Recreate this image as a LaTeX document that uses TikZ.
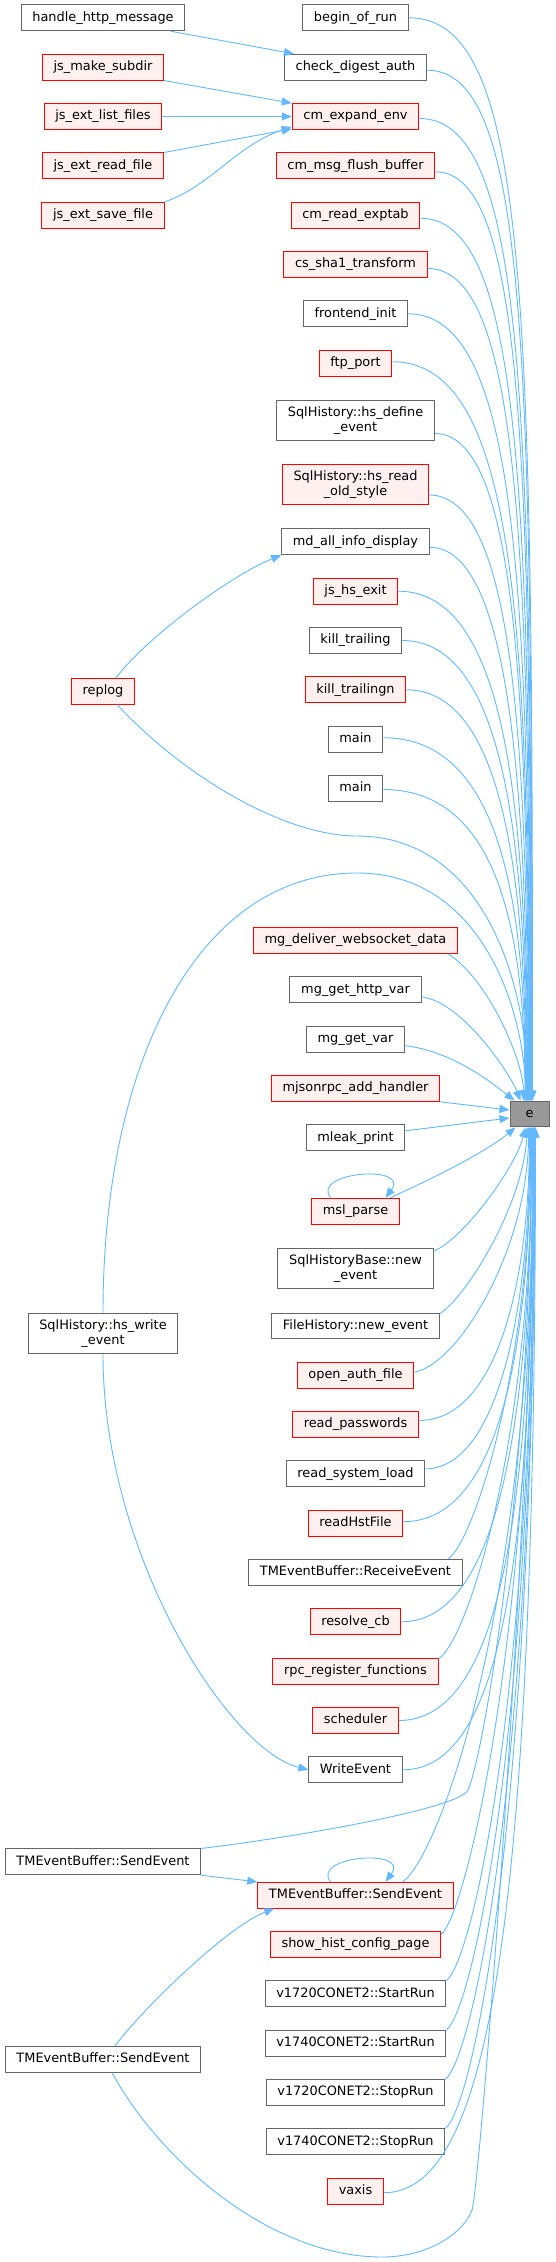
\documentclass[tikz,border=0pt]{standalone}
\usepackage{fontspec}
\setmainfont{DejaVu Sans}
\usetikzlibrary{arrows.meta}
\definecolor{edgeblue}{HTML}{63B8FF}
\definecolor{boxgray}{HTML}{666666}
\definecolor{redfill}{HTML}{FFF0F0}
\definecolor{rootfill}{HTML}{999999}
\begin{document}
\begin{tikzpicture}[
x=1pt,y=1pt,
every node/.style={draw=boxgray,line width=1pt,fill=white,inner xsep=11.2pt,inner ysep=0pt,minimum height=25.7pt,text height=9.6pt,text depth=3.1pt,font=\fontsize{12.9pt}{14.4pt}\selectfont},
redfn/.style={draw=red,fill=redfill},
twoline/.style={align=center,text height={},text depth={},inner ysep=5pt,minimum height=40.3pt},
rootfn/.style={fill=rootfill,minimum width=39pt},
callarrow/.style={draw=edgeblue,line width=0.9pt,-{Triangle[length=10pt,width=8pt]}}
]
\useasboundingbox (0,0) rectangle (555,-2262);

\node[rootfn] (e) at (529.5,-1114) {e};

\node (bor) at (355.5,-17.8) {begin\_of\_run};
\node (cda) at (355.5,-67.2) {check\_digest\_auth};
\node[redfn] (cee) at (355.5,-116.5) {cm\_expand\_env};
\node[redfn] (mfb) at (355.5,-165.8) {cm\_msg\_flush\_buffer};
\node[redfn] (mre) at (355.5,-215.2) {cm\_read\_exptab};
\node[redfn] (sha) at (355.5,-264.5) {cs\_sha1\_transform};
\node (fri) at (355.5,-313.8) {frontend\_init};
\node[redfn] (ftp) at (355.5,-363.2) {ftp\_port};
\node[twoline] (hsd) at (355.5,-420.5) {SqlHistory::hs\_define\\\_event};
\node[redfn,twoline] (hsr) at (355.5,-484.5) {SqlHistory::hs\_read\\\_old\_style};
\node (mdi) at (355.5,-541.8) {md\_all\_info\_display};
\node[redfn] (jhe) at (355.5,-591.2) {js\_hs\_exit};
\node (kt) at (355.5,-640.5) {kill\_trailing};
\node[redfn] (ktn) at (355.5,-689.8) {kill\_trailingn};
\node (mn1) at (355.5,-739.2) {main};
\node (mn2) at (355.5,-788.5) {main};
\node[redfn] (mgd) at (355.5,-940.5) {mg\_deliver\_websocket\_data};
\node (mgh) at (355.5,-989.8) {mg\_get\_http\_var};
\node (mgv) at (355.5,-1039.2) {mg\_get\_var};
\node[redfn] (mjr) at (355.5,-1088.5) {mjsonrpc\_add\_handler};
\node (mlp) at (355.5,-1137.8) {mleak\_print};
\node[redfn] (msl) at (355.5,-1211.2) {msl\_parse};
\node[twoline] (hbn) at (355.5,-1268.8) {SqlHistoryBase::new\\\_event};
\node (fhn) at (355.5,-1326) {FileHistory::new\_event};
\node[redfn] (oaf) at (355.5,-1375.2) {open\_auth\_file};
\node[redfn] (rpw) at (355.5,-1424.5) {read\_passwords};
\node (rsl) at (355.5,-1473.8) {read\_system\_load};
\node[redfn] (rhf) at (355.5,-1523.2) {readHstFile};
\node (rev) at (355.5,-1572.5) {TMEventBuffer::ReceiveEvent};
\node[redfn] (rcb) at (355.5,-1621.8) {resolve\_cb};
\node[redfn] (rrf) at (355.5,-1671.2) {rpc\_register\_functions};
\node[redfn] (sch) at (355.5,-1720.5) {scheduler};
\node (wev) at (355.5,-1769.8) {WriteEvent};
\node[redfn] (snd) at (355.5,-1895.2) {TMEventBuffer::SendEvent};
\node[redfn] (shc) at (355.5,-1944.5) {show\_hist\_config\_page};
\node (s20) at (355.5,-1993.8) {v1720CONET2::StartRun};
\node (s40) at (355.5,-2043.2) {v1740CONET2::StartRun};
\node (p20) at (355.5,-2092.5) {v1720CONET2::StopRun};
\node (p40) at (355.5,-2141.8) {v1740CONET2::StopRun};
\node[redfn] (vax) at (355.5,-2191.2) {vaxis};

\node (hhm) at (103,-17.8) {handle\_http\_message};
\node[redfn] (jms) at (103,-67.2) {js\_make\_subdir};
\node[redfn] (jlf) at (103,-116.5) {js\_ext\_list\_files};
\node[redfn] (jrf) at (103,-165.8) {js\_ext\_read\_file};
\node[redfn] (jsf) at (103,-215.2) {js\_ext\_save\_file};
\node[redfn] (rpl) at (103,-691.2) {replog};
\node[twoline] (hsw) at (103,-1333.8) {SqlHistory::hs\_write\\\_event};
\node (snA) at (103,-1861.8) {TMEventBuffer::SendEvent};
\node (snB) at (103,-2059.2) {TMEventBuffer::SendEvent};

\draw[callarrow] ([xshift=-15pt]hhm.south east) -- ([xshift=10pt]cda.north west);
\draw[callarrow] (jms.south east) -- (cee.north west);
\draw[callarrow] (jlf.east) -- (cee.west);
\draw[callarrow] (jrf.north east) -- ([yshift=1pt]cee.south west);
\draw[callarrow] (jsf.north east) .. controls +(45,15) and +(-55,-18) .. ([yshift=3pt]cee.south west);
\draw[callarrow] ([xshift=13pt]rpl.north) .. controls +(30,40) and +(-50,-20) .. (mdi.south west);
\draw[callarrow] ([xshift=14pt]rpl.south) .. controls +(70,-75) and +(-70,0) .. (357,-836) .. controls +(120,0) and +(0,130) .. ([xshift=-2pt]e.north);
\draw[callarrow] (hsw.north) .. controls +(0,250) and +(-160,0) .. (357,-873) .. controls +(130,0) and +(0,80) .. ([xshift=-4pt]e.north);
\draw[callarrow] (hsw.south) .. controls +(0,-200) and +(-80,20) .. (wev.west);
\draw[callarrow] ([xshift=-25pt]msl.north) .. controls +(-20,26) and +(25,34) .. ([xshift=30pt]msl.north);
\draw[callarrow] ([xshift=-25pt]snd.north) .. controls +(-20,26) and +(25,34) .. ([xshift=30pt]snd.north);
\draw[callarrow] (snA.south east) -- (snd.north west);
\draw[callarrow] ([xshift=12pt]snB.north) .. controls +(30,40) and +(-45,-17) .. ([xshift=17pt]snd.south west);
\draw[callarrow] (snA.north east) .. controls +(100,12) and +(-8,-18) .. (468,-1790) .. controls +(16,36) and +(0,-350) .. ([xshift=2pt]e.south);
\draw[callarrow] ([xshift=9pt]snB.south) .. controls +(48,-88) and +(-112,0) .. (382,-2257) .. controls +(48,0) and +(-8,-22) .. (472,-2210) .. controls +(8,22) and +(0,-373) .. ([xshift=4pt]e.south);

\draw[callarrow] (bor.east) .. controls +(121,0) and +(0,801) .. ([xshift=3pt]e.north);
\draw[callarrow] ([yshift=-3pt]cda.east) .. controls +(101,0) and +(0,751) .. ([xshift=2.5pt]e.north);
\draw[callarrow] ([yshift=-2pt]cee.east) .. controls +(106,0) and +(0,701) .. ([xshift=2pt]e.north);
\draw[callarrow] ([yshift=-6pt]mfb.east) .. controls +(88,0) and +(0,653) .. ([xshift=1.5pt]e.north);
\draw[callarrow] ([yshift=-3pt]mre.east) .. controls +(101,0) and +(0,606) .. ([xshift=1pt]e.north);
\draw[callarrow] ([yshift=-4pt]sha.east) .. controls +(91,0) and +(0,560) .. ([xshift=0.5pt]e.north);
\draw[callarrow] (fri.east) .. controls +(109,0) and +(0,516) .. (e.north);
\draw[callarrow] ([yshift=1.5pt]ftp.east) .. controls +(124,0) and +(0,473) .. ([xshift=-0.5pt]e.north);
\draw[callarrow] ([yshift=-13pt]hsd.east) .. controls +(79,0) and +(0,425) .. ([xshift=-1pt]e.north);
\draw[callarrow] ([yshift=-10.5pt]hsr.east) .. controls +(82,0) and +(0,374) .. ([xshift=-1.5pt]e.north);
\draw[callarrow] ([yshift=-5.5pt]mdi.east) .. controls +(77,0) and +(0,330) .. ([xshift=-2pt]e.north);
\draw[callarrow] (jhe.east) .. controls +(108,0) and +(0,294) .. ([xshift=-2.5pt]e.north);
\draw[callarrow] (kt.east) .. controls +(102,0) and +(0,259) .. ([xshift=-3pt]e.north);
\draw[callarrow] (ktn.east) .. controls +(96,0) and +(0,225) .. ([xshift=-3.5pt]e.north);
\draw[callarrow] ([yshift=1.5pt]mn1.east) .. controls +(119,0) and +(0,193) .. ([xshift=-4pt]e.north);
\draw[callarrow] ([yshift=-1pt]mn2.east) .. controls +(117,0) and +(0,162) .. ([xshift=-4.5pt]e.north);
\draw[callarrow] ([xshift=-10pt]mgd.south east) .. controls +(40,-25) and +(0,40) .. ([xshift=-6pt]e.north);
\draw[callarrow] ([yshift=-7pt]mgh.east) .. controls +(40,-5) and +(-12,30) .. ([xshift=-9pt]e.north);
\draw[callarrow] ([yshift=-6.5pt]mgv.east) .. controls +(45,-5) and +(-25,20) .. ([xshift=-15pt]e.north);
\draw[callarrow] (mjr.south east) -- ([yshift=4pt]e.west);
\draw[callarrow] ([yshift=7pt]mlp.east) -- ([yshift=-4pt]e.west);
\draw[callarrow] ([xshift=-10pt]msl.north east) .. controls +(40,18) and +(-30,-25) .. ([xshift=-14pt]e.south);
\draw[callarrow] ([yshift=-3pt]hbn.north east) .. controls +(30,12) and +(-10,-40) .. ([xshift=-4pt]e.south);
\draw[callarrow] ([yshift=-1pt]fhn.north east) .. controls +(25,15) and +(-5,-80) .. ([xshift=-2pt]e.south);
\draw[callarrow] ([yshift=3pt]oaf.east) .. controls +(45,8) and +(0,-120) .. ([xshift=-1pt]e.south);
\draw[callarrow] ([yshift=4pt]rpw.east) .. controls +(78,0) and +(0,-155) .. (e.south);
\draw[callarrow] ([yshift=5pt]rsl.east) .. controls +(72,0) and +(0,-184) .. ([xshift=0.5pt]e.south);
\draw[callarrow] ([yshift=1.5pt]rhf.east) .. controls +(97,0) and +(0,-217) .. ([xshift=1pt]e.south);
\draw[callarrow] ([xshift=-15pt]rev.north east) .. controls +(25,15) and +(0,-242) .. ([xshift=1.5pt]e.south);
\draw[callarrow] (rcb.east) .. controls +(95,0) and +(0,-300) .. ([xshift=2pt]e.south);
\draw[callarrow] ([yshift=-1pt]rrf.north east) .. controls +(28,18) and +(0,-320) .. ([xshift=2.5pt]e.south);
\draw[callarrow] (sch.east) .. controls +(108,0) and +(0,-356) .. ([xshift=3pt]e.south);
\draw[callarrow] (wev.east) .. controls +(106,0) and +(0,-398) .. ([xshift=3.5pt]e.south);
\draw[callarrow] ([xshift=47pt]snd.north) .. controls +(35,23) and +(0,-483) .. ([xshift=4pt]e.south);
\draw[callarrow] ([yshift=-3pt]shc.north east) .. controls +(22,15) and +(0,-525) .. ([xshift=4.5pt]e.south);
\draw[callarrow] (s20.north east) .. controls +(25,18) and +(0,-573) .. ([xshift=5pt]e.south);
\draw[callarrow] (s40.north east) .. controls +(25,18) and +(0,-615) .. ([xshift=5pt]e.south);
\draw[callarrow] (p20.north east) .. controls +(25,18) and +(0,-668) .. ([xshift=5.5pt]e.south);
\draw[callarrow] (p40.north east) .. controls +(25,18) and +(0,-713) .. ([xshift=5.5pt]e.south);
\draw[callarrow] ([yshift=-1.5pt]vax.east) .. controls +(110,0) and +(0,-767) .. ([xshift=6pt]e.south);
\end{tikzpicture}
\end{document}
